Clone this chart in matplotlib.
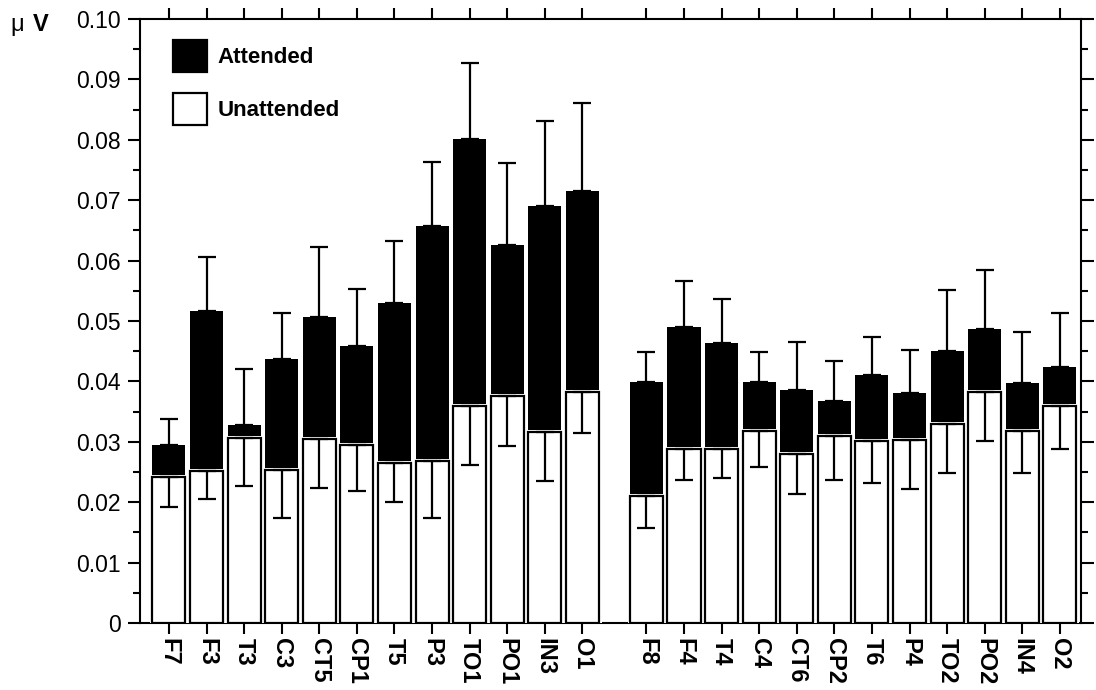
import numpy as np
import matplotlib
matplotlib.use("Agg")
import matplotlib.pyplot as plt
from matplotlib.patches import Patch
from matplotlib.ticker import MultipleLocator, FuncFormatter

plt.rcParams["font.family"] = ["Liberation Sans", "DejaVu Sans"]

# electrode sites, left and right hemisphere groups
sites_left = ["F7", "F3", "T3", "C3", "CT5", "CP1", "T5", "P3", "TO1", "PO1", "IN3", "O1"]
sites_right = ["F8", "F4", "T4", "C4", "CT6", "CP2", "T6", "P4", "TO2", "PO2", "IN4", "O2"]

attended_left = [0.0295, 0.0517, 0.0328, 0.0437, 0.0507, 0.0459, 0.0530, 0.0657, 0.0801, 0.0625, 0.0691, 0.0715]
attended_left_err = [0.0043, 0.0089, 0.0093, 0.0077, 0.0116, 0.0094, 0.0103, 0.0107, 0.0126, 0.0136, 0.0140, 0.0146]
unattended_left = [0.0241, 0.0251, 0.0306, 0.0254, 0.0304, 0.0294, 0.0265, 0.0268, 0.0360, 0.0376, 0.0317, 0.0382]
unattended_left_err = [0.0049, 0.0046, 0.0079, 0.0080, 0.0081, 0.0076, 0.0064, 0.0094, 0.0098, 0.0083, 0.0082, 0.0067]

attended_right = [0.0399, 0.0490, 0.0463, 0.0399, 0.0385, 0.0367, 0.0411, 0.0380, 0.0451, 0.0486, 0.0397, 0.0423]
attended_right_err = [0.0050, 0.0076, 0.0073, 0.0049, 0.0080, 0.0067, 0.0063, 0.0072, 0.0101, 0.0098, 0.0085, 0.0090]
unattended_right = [0.0210, 0.0288, 0.0288, 0.0318, 0.0279, 0.0310, 0.0302, 0.0303, 0.0330, 0.0382, 0.0318, 0.0360]
unattended_right_err = [0.0053, 0.0052, 0.0048, 0.0060, 0.0065, 0.0074, 0.0070, 0.0081, 0.0081, 0.0080, 0.0069, 0.0072]

sites = sites_left + sites_right
attended = np.array(attended_left + attended_right)
attended_err = np.array(attended_left_err + attended_right_err)
unattended = np.array(unattended_left + unattended_right)
unattended_err = np.array(unattended_left_err + unattended_right_err)

x = np.concatenate([np.arange(len(sites_left)), 12.7 + np.arange(len(sites_right))])
zeros = np.zeros_like(attended)
width = 0.88
lw = 1.6

fig = plt.figure(figsize=(10.96, 6.90), dpi=100)
ax = fig.add_axes([0.1277, 0.0971, 0.8586, 0.8754])

ax.bar(x, attended, width, color="black", linewidth=0, zorder=1)
ax.errorbar(x, attended, yerr=[zeros, attended_err], fmt="none", ecolor="black",
            elinewidth=lw, capsize=6.8, capthick=lw, zorder=2)
# white halo then black outline for the unattended bars
ax.bar(x, unattended, width, facecolor="white", edgecolor="white", linewidth=3.6, zorder=3)
ax.bar(x, unattended, width, facecolor="white", edgecolor="black", linewidth=lw, zorder=4)
ax.errorbar(x, unattended, yerr=[unattended_err, zeros], fmt="none", ecolor="black",
            elinewidth=lw, capsize=6.8, capthick=lw, zorder=5)

ax.set_xlim(-0.77, 24.26)
ax.set_ylim(0, 0.10)

ax.set_xticks(x)
ax.set_xticklabels(sites, rotation=-90, fontsize=17, fontweight="bold", va="top", ha="center")
ax.yaxis.set_major_locator(MultipleLocator(0.01))
ax.yaxis.set_minor_locator(MultipleLocator(0.005))
ax.yaxis.set_major_formatter(FuncFormatter(lambda v, p: "0" if abs(v) < 1e-9 else f"{v:.2f}"))

for s in ax.spines.values():
    s.set_linewidth(1.5)
ax.tick_params(axis="x", which="both", direction="out", length=8, width=1.5,
               top=True, bottom=True, pad=3)
ax.tick_params(axis="y", which="major", direction="out", length=9, width=1.5,
               left=True, right=True, labelsize=16.5, pad=5)
ax.tick_params(axis="y", which="minor", direction="out", length=5, width=1.5,
               left=True, right=True)

handles = [Patch(facecolor="black", edgecolor="black", linewidth=lw),
           Patch(facecolor="white", edgecolor="black", linewidth=lw)]
ax.legend(handles, ["Attended", "Unattended"], loc="upper left",
          bbox_to_anchor=(0.035, 0.965), frameon=False, borderpad=0, borderaxespad=0,
          handlelength=1.55, handleheight=1.85, handletextpad=0.45, labelspacing=0.92,
          prop={"size": 16, "weight": "bold"})

fig.text(10 / 1096, 1 - 31 / 690, "μ", fontsize=17, va="baseline", ha="left")
fig.text(33 / 1096, 1 - 31 / 690, "V", fontsize=17, fontweight="bold", va="baseline", ha="left")

fig.savefig("out.png", dpi=100, facecolor="white")
